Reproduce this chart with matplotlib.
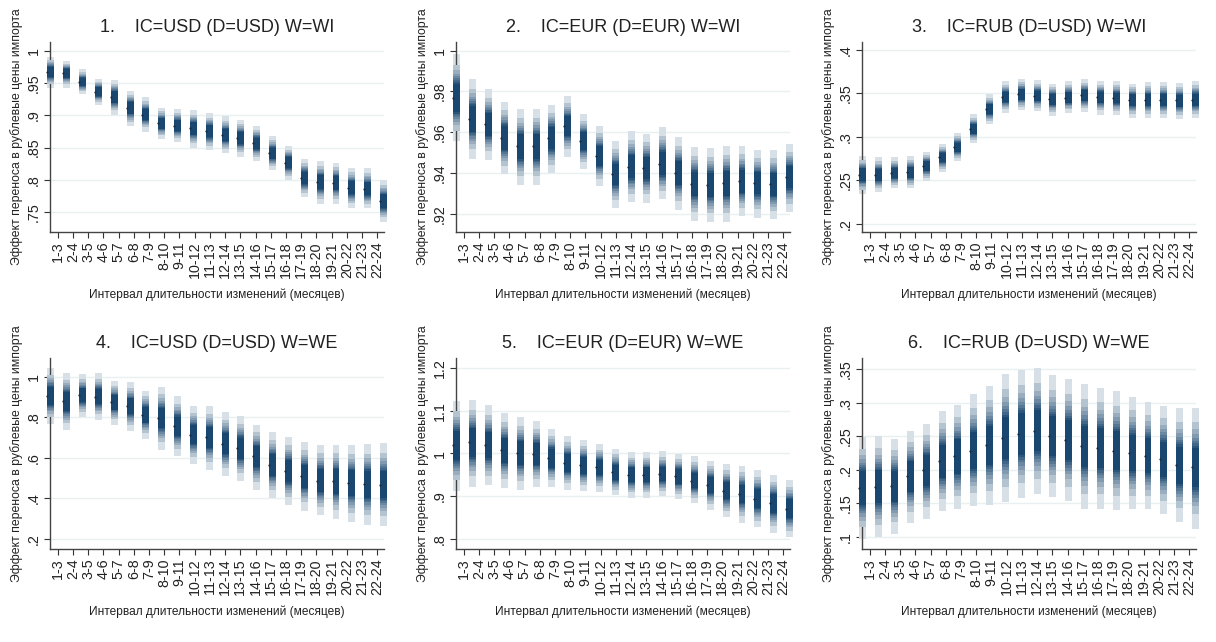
import matplotlib
matplotlib.use("Agg")
import matplotlib.pyplot as plt
import numpy as np

plt.rcParams['font.family'] = ['Liberation Sans', 'DejaVu Sans']

# categories on the x axis
intervals = ["1-3", "2-4", "3-5", "4-6", "5-7", "6-8", "7-9", "8-10", "9-11", "10-12", "11-13",
             "12-14", "13-15", "14-16", "15-17", "16-18", "17-19", "18-20", "19-21", "20-22",
             "21-23", "22-24"]

titles = ["1.    IC=USD (D=USD) W=WI", "2.    IC=EUR (D=EUR) W=WI", "3.    IC=RUB (D=USD) W=WI",
          "4.    IC=USD (D=USD) W=WE", "5.    IC=EUR (D=EUR) W=WE", "6.    IC=RUB (D=USD) W=WE"]

# point estimates and outer (99%) bounds
p1_mid = [.9675, .966, .952, .9365, .929, .912, .901, .8875, .884, .880, .876, .869, .865, .8566,
          .841, .827, .803, .797, .7957, .788, .786, .767]
p1_hi = [.9907, .9845, .971, .957, .9546, .938, .928, .912, .9097, .908, .903, .899, .893, .884,
         .868, .853, .833, .829, .827, .819, .818, .800]
p1_lo = [.9417, .943, .933, .916, .901, .883, .875, .863, .859, .850, .846, .842, .836, .829,
         .816, .800, .773, .763, .763, .756, .756, .735]

p2_mid = [.9769, .9667, .9638, .9574, .953, .953, .9572, .963, .9557, .9483, .9393, .943, .9424,
          .9446, .94, .9347, .9342, .935, .936, .935, .9344, .938]
p2_hi = [.9982, .986, .981, .975, .9713, .9716, .9736, .9777, .9688, .963, .9556, .9605, .9593,
         .9626, .9577, .9528, .9523, .9533, .9533, .9511, .9511, .9544]
p2_lo = [.9556, .947, .9465, .9393, .934, .934, .940, .948, .942, .9336, .9229, .9257, .9254,
         .927, .922, .9164, .9159, .9159, .9188, .918, .9172, .9208]

p3_mid = [.2564, .2564, .2583, .259, .2668, .2765, .288, .3093, .3317, .346, .349, .3475, .3436,
          .345, .348, .346, .3448, .3429, .3429, .3429, .342, .3429]
p3_hi = [.2784, .2765, .2765, .2776, .283, .2919, .3047, .3259, .349, .364, .3672, .3653, .3614,
         .3645, .3664, .3645, .364, .3614, .3633, .3633, .362, .3645]
p3_lo = [.234, .236, .2406, .2406, .2487, .259, .2718, .2927, .3143, .3274, .3305, .3294, .3243,
         .3274, .3286, .3255, .3255, .3216, .3216, .3216, .3205, .3216]

p4_mid = [.9078, .8798, .9095, .9012, .8749, .8551, .814, .7975, .7564, .7152, .702, .6708, .6494,
          .6082, .5671, .5342, .5095, .4881, .4848, .4766, .4716, .4684]
p4_hi = [1.0444, 1.0198, 1.0148, 1.0198, .9819, .9737, .9325, .9506, .9045, .8584, .855, .8272,
         .8058, .7646, .7267, .702, .6773, .6658, .6658, .6658, .6692, .6741]
p4_lo = [.7696, .7366, .8025, .7893, .7646, .735, .6955, .6412, .6115, .5704, .5424, .5128, .4848,
         .4436, .4024, .3663, .34, .3169, .3005, .2840, .2675, .2626]

p5_mid = [1.019, 1.026, 1.019, 1.0073, 1.0011, .9995, .9894, .9777, .9722, .9676, .9559, .9504,
          .9504, .952, .9465, .9364, .927, .913, .906, .8942, .884, .87]
p5_hi = [1.1236, 1.126, 1.1126, 1.0947, 1.0846, 1.0768, 1.0573, 1.0417, 1.0307, 1.0222, 1.0112,
         1.0027, 1.0027, 1.005, .9988, .9933, .9832, .9754, .9715, .9621, .9496, .9387]
p5_lo = [.9114, .9215, .9254, .9192, .9153, .9215, .9215, .9153, .913, .9098, .902, .8958, .8958,
         .8997, .8935, .8841, .8685, .8506, .8373, .8272, .8139, .8037]

p6_mid = [.1729, .1744, .1754, .1903, .1992, .2126, .22, .2285, .2364, .2473, .2538, .2582, .2498,
          .2439, .2349, .2324, .2285, .225, .221, .216, .2067, .2037]
p6_hi = [.2488, .2498, .2458, .2582, .2687, .287, .2969, .3123, .3252, .3426, .349, .3515, .3406,
         .3351, .3277, .3217, .3168, .3083, .301, .2954, .292, .292]
p6_lo = [.097, .1, .105, .1208, .1268, .1382, .1417, .1456, .1471, .1516, .158, .164, .159, .153,
         .1422, .1417, .1407, .1417, .1417, .1347, .1223, .1124]

panels = [(p1_mid, p1_lo, p1_hi), (p2_mid, p2_lo, p2_hi), (p3_mid, p3_lo, p3_hi),
          (p4_mid, p4_lo, p4_hi), (p5_mid, p5_lo, p5_hi), (p6_mid, p6_lo, p6_hi)]

y_ticks = [np.arange(.75, 1.001, .05), np.arange(.92, 1.001, .02), np.arange(.2, .401, .05),
           np.arange(.2, 1.001, .2), np.arange(.8, 1.201, .1), np.arange(.1, .351, .05)]
y_lims = [(.7195, 1.0135), (.911, 1.0043), (.1904, .4093),
          (.1506, 1.0938), (.7766, 1.2234), (.0821, .3664)]

# fan chart: bands for 99,95,...,60% levels as share of the 99% half-width
z_levels = np.array([2.576, 1.960, 1.645, 1.440, 1.282, 1.150, 1.036, 0.935, 0.842])
navy = np.array([26, 71, 111]) / 255
band_colors = []
nb = len(z_levels)
for k in range(nb):
    t = 0.17 + 0.83 * (k / (nb - 1)) ** 0.8
    band_colors.append(tuple(1 - t + t * navy))


def stata_fmt(v):
    s = f"{v:.2f}".rstrip('0').rstrip('.')
    if s.startswith("0."):
        s = s[1:]
    return s


W, H = 1216, 642
fig = plt.figure(figsize=(W / 100, H / 100), dpi=100)
lefts = [50, 456, 862]
rows = [(42, 232), (358, 549)]
txt = '#222222'

for n, (mid, lo, hi) in enumerate(panels):
    left = lefts[n % 3]
    top, bot = rows[n // 3]
    ax = fig.add_axes([left / W, (H - bot) / H, 334 / W, (bot - top) / H])
    x = np.arange(len(intervals))
    mid = np.array(mid)
    lo = np.array(lo)
    hi = np.array(hi)

    for yt in y_ticks[n]:
        ax.axhline(yt, color='#e8f0f2', lw=1.0, zorder=0)

    for k, z in enumerate(z_levels):
        f = z / z_levels[0]
        b0 = mid - f * (mid - lo)
        b1 = mid + f * (hi - mid)
        ax.bar(x + 0.22, b1 - b0, bottom=b0, width=0.44, color=band_colors[k],
               linewidth=0, clip_on=False, zorder=2 + k)
    ax.plot(x, mid, 'o', color='#1a2a3a', ms=1.6, mew=0, clip_on=False, zorder=20)

    ax.set_xlim(0.17, 21.25)
    ax.set_ylim(*y_lims[n])
    ax.set_xticks(0.66 + 0.96 * x)
    ax.set_xticklabels(intervals, rotation=90, fontsize=10.3, color=txt)
    ax.set_yticks(y_ticks[n])
    ax.set_yticklabels([stata_fmt(v) for v in y_ticks[n]], rotation=90, va='center',
                       fontsize=10.3, color=txt)
    ax.tick_params(axis='both', direction='out', length=4.5, width=0.8, color='#333333', pad=2)
    for s in ['top', 'right']:
        ax.spines[s].set_visible(False)
    for s in ['left', 'bottom']:
        ax.spines[s].set_color('#444444')
        ax.spines[s].set_linewidth(1.0)

    ax.set_title(titles[n], fontsize=13, color=txt, pad=7)
    ax.set_ylabel("Эффект переноса в рублевые цены импорта", fontsize=8.8, color=txt, labelpad=3)
    ax.set_xlabel("Интервал длительности изменений (месяцев)", fontsize=8.6, color=txt, labelpad=8)

fig.savefig("out.png", dpi=100, facecolor='white')
